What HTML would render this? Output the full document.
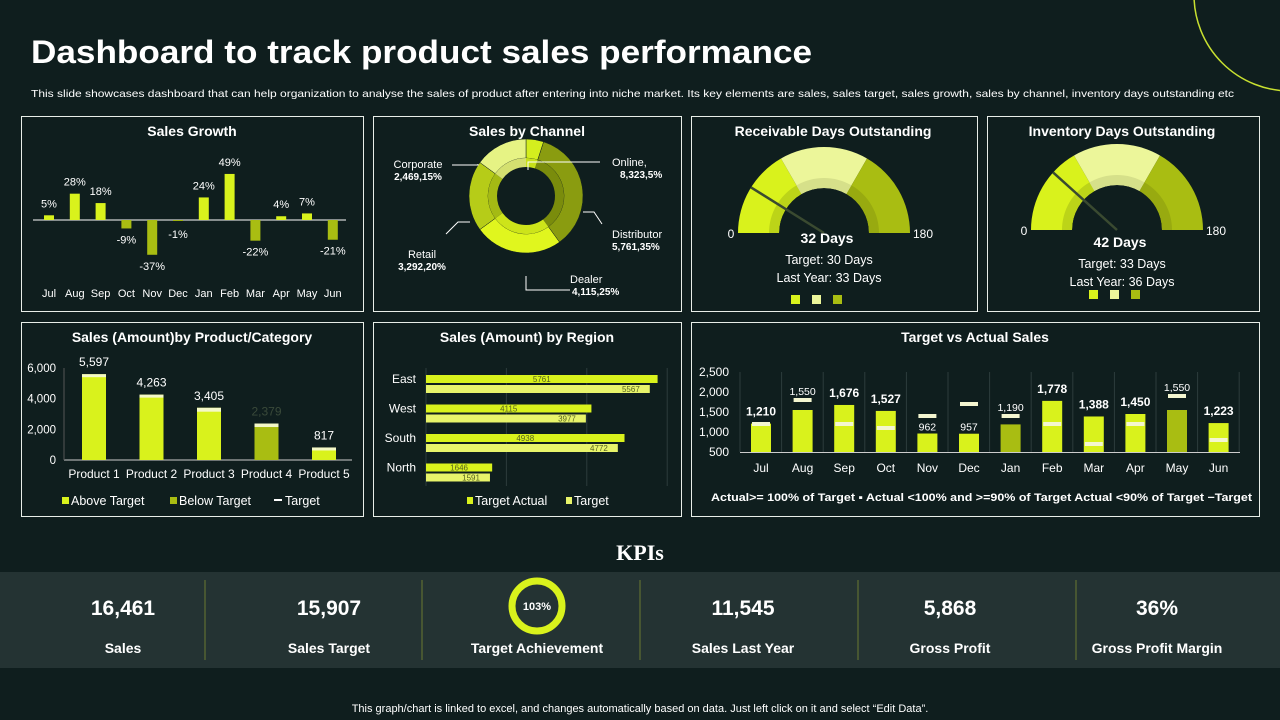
<!DOCTYPE html>
<html><head><meta charset="utf-8">
<style>
html,body{margin:0;padding:0;background:#0f1e1e;}
svg{display:block;font-family:"Liberation Sans",sans-serif;}
.t{fill:#fff;}
.pt{fill:#fff;font-weight:bold;font-size:14px;text-anchor:middle;}
</style></head>
<body>
<svg id="s" width="1280" height="720" viewBox="0 0 1280 720" xmlns="http://www.w3.org/2000/svg">
<rect x="0" y="0" width="1280" height="720" fill="#0f1e1e"/>
<circle cx="1290" cy="-5" r="96" fill="none" stroke="#c8e030" stroke-width="1.5"/>
<text x="31" y="63" class="t" font-size="32" font-weight="bold" textLength="781" lengthAdjust="spacingAndGlyphs">Dashboard to track product sales performance</text>
<text x="31" y="97" class="t" font-size="10.5" textLength="1203" lengthAdjust="spacingAndGlyphs">This slide showcases dashboard that can help organization to analyse the sales of product after entering into niche market. Its key elements are sales, sales target, sales growth, sales by channel, inventory days outstanding etc</text>

<g fill="none" stroke="#e8eee8" stroke-width="1">
<rect x="21.5" y="116.5" width="342" height="195"/>
<rect x="373.5" y="116.5" width="308" height="195"/>
<rect x="691.5" y="116.5" width="286" height="195"/>
<rect x="987.5" y="116.5" width="272" height="195"/>
<rect x="21.5" y="322.5" width="342" height="194"/>
<rect x="373.5" y="322.5" width="308" height="194"/>
<rect x="691.5" y="322.5" width="568" height="194"/>
</g>
<text x="192" y="136" class="pt">Sales Growth</text>
<text x="527" y="136" class="pt">Sales by Channel</text>
<text x="833" y="136" class="pt">Receivable Days Outstanding</text>
<text x="1122" y="136" class="pt">Inventory Days Outstanding</text>
<text x="192" y="342" class="pt">Sales (Amount)by Product/Category</text>
<text x="527" y="342" class="pt">Sales (Amount) by Region</text>
<text x="975" y="342" class="pt">Target vs Actual Sales</text>

<g id="growth"></g><g id="donut"></g><g id="gauges"></g><g id="product"></g><g id="region"></g><g id="tva"></g>

<text x="640" y="560" class="t" font-family="Liberation Serif,serif" font-size="22" font-weight="bold" text-anchor="middle">KPIs</text>
<rect x="0" y="572" width="1280" height="96" fill="#243333"/>
<g id="kpis"></g>
<text x="640" y="712" class="t" font-size="11" text-anchor="middle">This graph/chart is linked to excel, and changes automatically based on data. Just left click on it and select “Edit Data”.</text>
</svg>
<script>
var NS='http://www.w3.org/2000/svg';
function mk(p,tag,a,txt){var e=document.createElementNS(NS,tag);for(var k in a)e.setAttribute(k,a[k]);if(txt!==undefined)e.textContent=txt;p.appendChild(e);return e;}
var C1='#d9f21c',C2='#a9bd12',C3='#ecf69a',C4='#e8f46a';

/* ---------- Sales growth ---------- */
var growthMonths=['Jul','Aug','Sep','Oct','Nov','Dec','Jan','Feb','Mar','Apr','May','Jun'];
var growthValues=[5,28,18,-9,-37,-1,24,49,-22,4,7,-21];
(function(){
 var g=document.getElementById('growth');
 var x=function(i){return 49+i*25.8;}, y=function(v){return 220-v*0.94;};
 var el=mk(g,'line',{x1:33,x2:346,y1:220,y2:220,stroke:'#fff','stroke-width':1});
 
 
 growthValues.forEach(function(v,i){
  var b=mk(g,'rect',{x:x(i)-5,y:Math.min(y(v),220),width:10,height:Math.abs(y(v)-220),fill:v>=0?C1:C2});
  
  
  var ly=v>=0?y(v)-8:(v>-5?y(v)+17:y(v)+15);
  var t=mk(g,'text',{x:x(i),y:ly,'font-size':11,fill:'#fff','text-anchor':'middle'},v+'%');
  
  
  var m=mk(g,'text',{x:x(i),y:297,'font-size':11,fill:'#fff','text-anchor':'middle'},growthMonths[i]);
  
  
 });
})();

/* ---------- Donut ---------- */
var channelNames=['Online','Distributor','Dealer','Retail','Corporate'];
var channelShares=[5,35,25,20,15];
var channelLabels=['8,323,5%','5,761,35%','4,115,25%','3,292,20%','2,469,15%'];
(function(){
 var g=document.getElementById('donut'),cx=526,cy=196;
 var cols=['#d4ee1e','#8a9c10','#e0f61e','#b6cc18','#e6f384'];
 var inner=['#c6e01a','#7a8c0c','#cde41a','#a4ba14','#d4e070'];
 var a0=0,tot=channelShares.reduce(function(s,v){return s+v;},0);
 function arc(r1,r2,s,e){
  var p=function(r,a){return [cx+r*Math.sin(a),cy-r*Math.cos(a)];};
  var A=p(r2,s),B=p(r2,e),Cc=p(r1,e),D=p(r1,s),l=(e-s)>Math.PI?1:0;
  return 'M'+A+' A'+r2+','+r2+' 0 '+l+' 1 '+B+' L'+Cc+' A'+r1+','+r1+' 0 '+l+' 0 '+D+'Z';
 }
 channelShares.forEach(function(v,i){
  var a1=a0+v/tot*2*Math.PI;
  var s=mk(g,'path',{d:arc(38,57,a0,a1),fill:cols[i],stroke:'#0f1e1e','stroke-width':0.5});
  
  
  var s2=mk(g,'path',{d:arc(29,38,a0,a1),fill:inner[i]});
  
  
  a0=a1;
 });
 var lp=[[612,166,'start'],[612,238,'start'],[570,283,'start'],[422,258,'middle'],[418,168,'middle']];
 channelNames.forEach(function(n,i){
  var t=mk(g,'text',{x:lp[i][0],y:lp[i][1],'font-size':11,fill:'#fff','text-anchor':lp[i][2]},n+(i==0?',':''));
  
  
  var t2=mk(g,'text',{x:lp[i][0]+(i==0?8:i==2?2:0),y:lp[i][1]+12,'font-size':10,'font-weight':'bold',fill:'#fff','text-anchor':lp[i][2]},channelLabels[i]);
  
  
 });
 var lines=['M528,170 V162 H600','M583,212 H594 L602,224','M526,276 V290 H570','M470,222 H458 L446,234','M478,164 V165 H452'];
 lines.forEach(function(d){var l=mk(g,'path',{d:d,fill:'none',stroke:'#fff','stroke-width':1});
  
  });
})();

/* ---------- Gauges ---------- */
var gaugeNames=['receivable','inventory'];
var gaugeValues=[32,42];
var gaugeTargets=[30,33];
var gaugeLastYear=[33,36];
(function(){
 var g=document.getElementById('gauges');
 var centers=[[824,233],[1117,230]];
 var cols=[C1,C3,C2],inn=['#bcd418','#d6e08a','#98aa10'];
 gaugeValues.forEach(function(v,k){
  var cx=centers[k][0],cy=centers[k][1];
  function seg(r1,r2,s,e){
   var p=function(r,a){return [cx-r*Math.cos(a),cy-r*Math.sin(a)];};
   var A=p(r2,s),B=p(r2,e),Cc=p(r1,e),D=p(r1,s);
   return 'M'+A+' A'+r2+','+r2+' 0 0 1 '+B+' L'+Cc+' A'+r1+','+r1+' 0 0 0 '+D+'Z';
  }
  for(var i=0;i<3;i++){
   var s=mk(g,'path',{d:seg(45,86,i*Math.PI/3,(i+1)*Math.PI/3),fill:cols[i]});
   
   
   var s2=mk(g,'path',{d:seg(45,55,i*Math.PI/3,(i+1)*Math.PI/3),fill:inn[i]});
   
   
  }
  var a=v/180*Math.PI;
  var n=mk(g,'line',{x1:cx,y1:cy,x2:cx-86*Math.cos(a),y2:cy-86*Math.sin(a),stroke:'#3a4a30','stroke-width':2.5});
  
  
  var t0=mk(g,'text',{x:cx-93,y:cy+5,'font-size':12,fill:'#fff','text-anchor':'middle'},'0');
  
  
  var t1=mk(g,'text',{x:cx+99,y:cy+5,'font-size':12,fill:'#fff','text-anchor':'middle'},'180');
  
  
  var tv=mk(g,'text',{x:cx+3,y:cy+10+(k?7:0),'font-size':14,'font-weight':'bold',fill:'#fff','text-anchor':'middle'},v+' Days');
  
  
  var tt=mk(g,'text',{x:cx+5,y:cy+31+(k?7:0),'font-size':12.5,fill:'#fff','text-anchor':'middle'},'Target:  '+gaugeTargets[k]+' Days');
  
  
  var tl=mk(g,'text',{x:cx+5,y:cy+49+(k?7:0),'font-size':12.5,fill:'#fff','text-anchor':'middle'},'Last Year: '+gaugeLastYear[k]+' Days');
  
  
  for(var j=0;j<3;j++){var sq=mk(g,'rect',{x:cx-33+j*21+(k?5:0),y:k?290:295,width:9,height:9,fill:cols[j]});
   
   }
 });
})();

/* ---------- Product ---------- */
var products=['Product 1','Product 2','Product 3','Product 4','Product 5'];
var productActual=[5597,4263,3405,2379,817];
var productTarget=[5450,4100,3150,2150,650];
var productTicks=[0,2000,4000,6000];
(function(){
 var g=document.getElementById('product');
 var y=function(v){return 460-v*92/6000;}, x=function(i){return 94+i*57.5;};
 productTicks.forEach(function(t){var e=mk(g,'text',{x:56,y:y(t)+4,'font-size':11.5,fill:'#fff','text-anchor':'end'},t.toLocaleString('en-US'));
  
  });
 var ax=mk(g,'line',{x1:64,x2:352,y1:460,y2:460,stroke:'#ccc'});
 
 
 var ay=mk(g,'line',{x1:64,x2:64,y1:368,y2:460,stroke:'#555'});
 
 
 productActual.forEach(function(v,i){
  var below=i==3;
  var b=mk(g,'rect',{x:x(i)-12,y:y(v),width:24,height:460-y(v),fill:below?C2:C1});
  
  
  var tm=mk(g,'rect',{x:x(i)-12,y:y(v),width:24,height:Math.max(3,y(productTarget[i])-y(v)),fill:'#f4f8c8'});
  
  
  var lb=mk(g,'text',{x:x(i),y:y(v)-8,'font-size':12,fill:below?'#3a4a3a':'#fff','text-anchor':'middle'},v.toLocaleString('en-US'));
  
  
  var cl=mk(g,'text',{x:x(i),y:478,'font-size':12,fill:'#fff','text-anchor':'middle'},products[i]);
  
  
 });
 var leg=[[62,C1,'Above Target'],[170,C2,'Below Target']];
 leg.forEach(function(l){var s=mk(g,'rect',{x:l[0],y:497,width:7,height:7,fill:l[1]});
  
  
  var t=mk(g,'text',{x:l[0]+9,y:505,'font-size':12.5,fill:'#fff'},l[2]);
  
  });
 var tl=mk(g,'line',{x1:274,x2:282,y1:500,y2:500,stroke:'#fff','stroke-width':2});
 
 
 var tt=mk(g,'text',{x:285,y:505,'font-size':12.5,fill:'#fff'},'Target');
 
 
})();

/* ---------- Region ---------- */
var regions=['East','West','South','North'];
var regionActual=[5761,4115,4938,1646];
var regionTarget=[5567,3977,4772,1591];
(function(){
 var g=document.getElementById('region');
 var x=function(v){return 426+v*0.0402;};
 [0,2000,4000,6000].forEach(function(t){var l=mk(g,'line',{x1:x(t),x2:x(t),y1:368,y2:486,stroke:'#2c3c3c'});
  
  });
 regionActual.forEach(function(v,i){
  var yy=375+i*29.5;
  var a=mk(g,'rect',{x:426,y:yy,width:x(v)-426,height:8,fill:C1});
  
  
  var t=mk(g,'rect',{x:426,y:yy+10,width:x(regionTarget[i])-426,height:8,fill:C4});
  
  
  var la=mk(g,'text',{x:(426+x(v))/2,y:yy+7,'font-size':8,fill:'#556020','text-anchor':'middle'},v);
  
  
  var lt=mk(g,'text',{x:x(regionTarget[i])-10,y:yy+17,'font-size':8,fill:'#556020','text-anchor':'end'},regionTarget[i]);
  
  
  var lr=mk(g,'text',{x:416,y:yy+8,'font-size':12,fill:'#fff','text-anchor':'end'},regions[i]);
  
  
 });
 [[467,C1,'Target Actual'],[566,C4,'Target']].forEach(function(l){var s=mk(g,'rect',{x:l[0],y:497,width:6,height:7,fill:l[1]});
  
  
  var t=mk(g,'text',{x:l[0]+8,y:505,'font-size':12.5,fill:'#fff'},l[2]);
  
  });
})();

/* ---------- Target vs Actual ---------- */
var tvaMonths=['Jul','Aug','Sep','Oct','Nov','Dec','Jan','Feb','Mar','Apr','May','Jun'];
var tvaActual=[1210,1550,1676,1527,962,957,1190,1778,1388,1450,1550,1223];
var tvaTarget=[1200,1800,1200,1100,1400,1700,1400,1200,700,1200,1900,800];
var tvaTicks=[500,1000,1500,2000,2500];
(function(){
 var g=document.getElementById('tva');
 var y=function(v){return 452-(v-500)*0.04;}, x=function(i){return 761+i*41.6;};
 tvaTicks.forEach(function(t){var e=mk(g,'text',{x:729,y:y(t)+4,'font-size':12,fill:'#fff','text-anchor':'end'},t.toLocaleString('en-US'));
  
  });
 for(var i=0;i<=12;i++){var l=mk(g,'line',{x1:740+i*41.6,x2:740+i*41.6,y1:372,y2:452,stroke:'#2c3c3c'});
  
  }
 var ax=mk(g,'line',{x1:740,x2:1240,y1:452.5,y2:452.5,stroke:'#ccc'});
 
 
 tvaActual.forEach(function(v,i){
  var r=v/tvaTarget[i];
  var col=r>=1?C1:(r>=0.9?C3:C2);
  if(i==1||i==4||i==5)col=C1;
  var b=mk(g,'rect',{x:x(i)-10,y:y(v),width:20,height:452-y(v),fill:col});
  
  
  var tm=mk(g,'rect',{x:x(i)-9,y:y(tvaTarget[i])-2,width:18,height:4,fill:'#f4f6d0'});
  
  
  var above=tvaTarget[i]>v;
  var lb=mk(g,'text',{x:x(i),y:above?y(tvaTarget[i])-5:y(v)-8,'font-size':above?10.5:12,'font-weight':above?'normal':'bold',fill:'#fff','text-anchor':'middle'},v.toLocaleString('en-US'));
  if(i==4||i==5)lb.setAttribute('y',y(v)-3);
  
  
  var ml=mk(g,'text',{x:x(i),y:472,'font-size':12,fill:'#fff','text-anchor':'middle'},tvaMonths[i]);
  
  
 });
 var lg=mk(g,'text',{x:711,y:501,'font-size':11,'font-weight':'bold',fill:'#fff',textLength:541,lengthAdjust:'spacingAndGlyphs'},'Actual>= 100% of Target \u25AA Actual <100% and >=90% of Target    Actual <90% of Target \u2212Target');
 
 
})();

/* ---------- KPIs ---------- */
var kpiValues=['16,461','15,907','103%','11,545','5,868','36%'];
var kpiLabels=['Sales','Sales Target','Target Achievement','Sales Last Year','Gross Profit','Gross Profit Margin'];
(function(){
 var g=document.getElementById('kpis');
 var xs=[123,329,537,743,950,1157];
 [205,422,640,858,1076].forEach(function(x){var l=mk(g,'line',{x1:x,x2:x,y1:580,y2:660,stroke:'#6a7a30','stroke-width':1});
  
  });
 kpiValues.forEach(function(v,i){
  if(i==2){var c=mk(g,'circle',{cx:xs[i],cy:606,r:25,fill:'none',stroke:'#d9f21c','stroke-width':7});
   
   }
  var t=mk(g,'text',{x:xs[i],y:i==2?610:615,'font-size':i==2?11:21,'font-weight':'bold',fill:'#fff','text-anchor':'middle'},v);
  
  
  var l=mk(g,'text',{x:xs[i],y:653,'font-size':14,'font-weight':'bold',fill:'#fff','text-anchor':'middle'},kpiLabels[i]);
  
  
 });
})();
</script>
</body></html>
